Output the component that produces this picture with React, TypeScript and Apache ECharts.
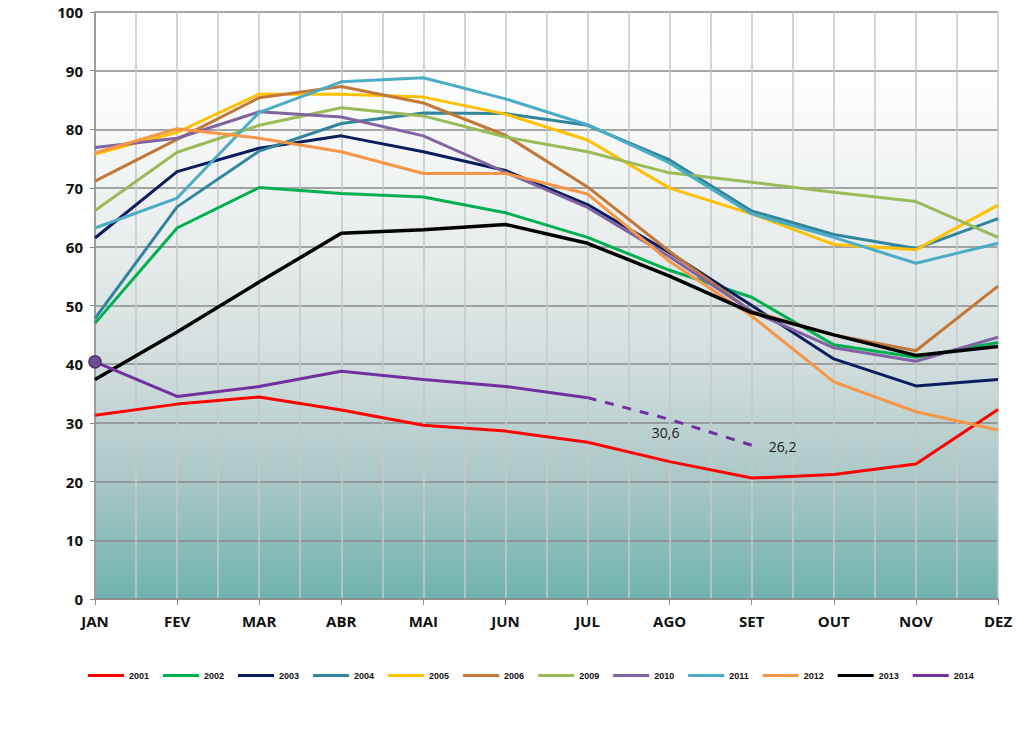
import React, { useEffect, useRef } from "react";
import * as echarts from "echarts";

const months = ["JAN", "FEV", "MAR", "ABR", "MAI", "JUN", "JUL", "AGO", "SET", "OUT", "NOV", "DEZ"];
const yTicks = [0, 10, 20, 30, 40, 50, 60, 70, 80, 90, 100];

const years = ["2001", "2002", "2003", "2004", "2005", "2006", "2009", "2010", "2011", "2012", "2013", "2014"];
const colors = ["#ff0000", "#00b050", "#0c1d5e", "#31859c", "#ffc000", "#c27838", "#9bbb59", "#8064a2", "#4bacc6", "#f79646", "#000000", "#7030a0"];

const s2001 = [31.3, 33.2, 34.4, 32.2, 29.6, 28.6, 26.7, 23.4, 20.6, 21.2, 23.0, 32.3];
const s2002 = [47.0, 63.2, 70.1, 69.1, 68.5, 65.8, 61.6, 56.0, 51.4, 43.3, 41.2, 43.7];
const s2003 = [61.5, 72.8, 76.8, 78.9, 76.2, 73.0, 67.2, 59.0, 50.0, 40.9, 36.3, 37.4];
const s2004 = [47.8, 66.8, 76.3, 81.0, 82.8, 82.7, 80.7, 74.8, 66.1, 62.1, 59.7, 64.8];
const s2005 = [75.8, 79.5, 86.0, 86.0, 85.5, 82.6, 78.2, 70.0, 65.6, 60.4, 59.5, 67.1];
const s2006 = [71.2, 78.3, 85.4, 87.3, 84.5, 79.0, 70.2, 59.2, 49.0, 45.0, 42.3, 53.3];
const s2009 = [66.2, 76.1, 80.7, 83.7, 82.3, 78.7, 76.2, 72.6, 71.0, 69.3, 67.7, 61.6];
const s2010 = [76.9, 78.5, 83.0, 82.1, 78.9, 72.7, 66.7, 58.3, 49.0, 42.8, 40.5, 44.6];
const s2011 = [63.2, 68.3, 82.9, 88.1, 88.8, 85.2, 80.8, 74.3, 65.6, 61.6, 57.2, 60.6];
const s2012 = [76.0, 80.1, 78.5, 76.2, 72.5, 72.5, 69.0, 57.5, 48.2, 37.0, 31.9, 28.8];
const s2013 = [37.4, 45.5, 54.0, 62.3, 62.9, 63.8, 60.6, 55.0, 48.8, 45.0, 41.5, 43.0];
const s2014 = [40.4, 34.5, 36.2, 38.8, 37.4, 36.2, 34.3];
const s2014Forecast = [null, null, null, null, null, null, 34.3, 30.6, 26.2];

const allSeries = [s2001, s2002, s2003, s2004, s2005, s2006, s2009, s2010, s2011, s2012, s2013];

export default function App() {
  const ref = useRef<HTMLDivElement>(null);
  useEffect(() => {
    const chart = echarts.init(ref.current!, undefined, { renderer: "svg" });
    const series: any[] = allSeries.map((d, i) => ({
      name: years[i],
      type: "line",
      data: d,
      symbol: "none",
      xAxisIndex: 0,
      lineStyle: { width: i === 10 ? 3.5 : 3, color: colors[i] },
      itemStyle: { color: colors[i] },
      z: 3,
    }));
    series.push({
      name: "2014",
      type: "line",
      xAxisIndex: 0,
      symbol: "none",
      data: s2014.map((v, i) =>
        i === 0
          ? { value: v, symbol: "circle", symbolSize: 12, itemStyle: { color: "#6a4f93", borderColor: "#4a3470", borderWidth: 1.5 } }
          : v
      ),
      lineStyle: { width: 3, color: colors[11] },
      itemStyle: { color: colors[11] },
      z: 4,
    });
    series.push({
      name: "2014p",
      type: "line",
      xAxisIndex: 0,
      symbol: "circle",
      symbolSize: 0.1,
      showSymbol: true,
      data: s2014Forecast.map((v, i) => {
        if (i === 7)
          return { value: v, label: { show: true, position: "bottom", offset: [-4, 1], formatter: "30,6" } };
        if (i === 8)
          return { value: v, label: { show: true, position: "right", offset: [12, 1], formatter: "26,2" } };
        return v;
      }),
      label: { fontFamily: "Open Sans", fontSize: 14, color: "#1a1a1a" },
      lineStyle: { width: 3, color: colors[11], type: [9, 9] },
      itemStyle: { color: "rgba(0,0,0,0)" },
      z: 4,
    });

    chart.setOption({
      animation: false,
      color: colors,
      grid: {
        left: 95,
        right: 26,
        top: 12,
        bottom: 130,
        show: true,
        borderWidth: 0,
        backgroundColor: new echarts.graphic.LinearGradient(0, 0, 0, 1, [
          { offset: 0, color: "#ffffff" },
          { offset: 0.15, color: "#fbfcfc" },
          { offset: 0.4, color: "#e8ecec" },
          { offset: 0.6, color: "#d2dddd" },
          { offset: 0.8, color: "#a9c7c6" },
          { offset: 1, color: "#6fb2ae" },
        ]),
      },
      legend: {
        data: years,
        left: 83,
        top: 666,
        itemWidth: 36,
        itemHeight: 3,
        itemGap: 14,
        icon: "rect",
        textStyle: { fontFamily: "Liberation Sans", fontWeight: "bold", fontSize: 9, color: "#111" },
      },
      xAxis: [
        {
          type: "category",
          data: months,
          boundaryGap: false,
          axisLine: { show: true, lineStyle: { color: "#8c8c8c", width: 1.5 } },
          axisTick: { show: true, length: 6, lineStyle: { color: "#8c8c8c" } },
          axisLabel: { fontFamily: "Open Sans", fontWeight: "bold", fontSize: 15, color: "#111", margin: 14 },
          splitLine: { show: false },
          z: 2,
        },
        {
          type: "value",
          min: 0,
          max: 11,
          interval: 0.5,
          position: "bottom",
          axisLine: { show: false },
          axisTick: { show: false },
          axisLabel: { show: false },
          splitLine: { show: true, lineStyle: { color: "#c4c8c8", width: 1.5 } },
        },
      ],
      yAxis: {
        type: "value",
        min: 0,
        max: 100,
        interval: 10,
        axisLine: { show: true, lineStyle: { color: "#8c8c8c", width: 1.5 } },
        axisTick: { show: true, length: 5, lineStyle: { color: "#8c8c8c" } },
        axisLabel: { fontFamily: "Open Sans", fontWeight: "bold", fontSize: 15, color: "#111", margin: 12 },
        splitLine: { show: true, lineStyle: { color: "#8a8a8a", width: 1.5 } },
      },
      series,
    });
    return () => chart.dispose();
  }, []);
  return <div ref={ref} style={{ width: 1024, height: 729, position: "absolute", left: 0, top: 0 }} />;
}
